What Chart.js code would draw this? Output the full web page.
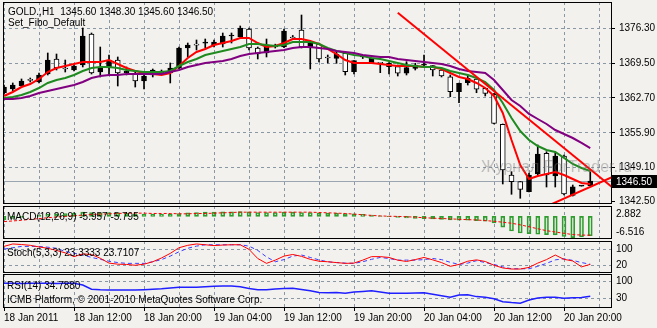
<!DOCTYPE html>
<html><head><meta charset="utf-8">
<script src="https://cdn.jsdelivr.net/npm/chart.js@4.4.1/dist/chart.umd.min.js"></script>
<style>
html,body{margin:0;padding:0;background:#f3f1ee;}
#wrap{position:relative;width:657px;height:328px;overflow:hidden;background:#f3f1ee;font-family:"Liberation Sans",Arial,sans-serif;font-size:10px;color:#000;}
canvas{position:absolute;left:0;}
.t{position:absolute;white-space:pre;line-height:12px;z-index:5;}
.wm{position:absolute;white-space:pre;font-size:16px;line-height:18px;color:rgba(120,120,120,0.42);z-index:4;}
</style></head>
<body><div id="wrap">
<canvas id="cMain" width="657" height="210" style="top:0px"></canvas>
<canvas id="cMacd" width="657" height="36" style="top:204px"></canvas>
<canvas id="cStoch" width="657" height="35" style="top:239px"></canvas>
<canvas id="cRsi" width="657" height="56" style="top:272px"></canvas>
<div class="t" style="left:8px;top:6px">GOLD.,H1  1345.60 1348.30 1345.60 1346.50</div>
<div class="t" style="left:8px;top:17px">Set_Fibo_Default</div>
<div class="wm" style="left:481px;top:158px">Журнал ForTrader.ru</div>
<div class="t" style="left:7px;top:211px">MACD(12,26,9) -5.957 -5.795</div>
<div class="t" style="left:7px;top:247px">Stoch(5,3,3) 23.3333 23.7107</div>
<div class="t" style="left:7px;top:280px">RSI(14) 34.7880</div>
<div class="t" style="left:7px;top:294px">ICMB Platform, © 2001-2010 MetaQuotes Software Corp.</div>
<div class="t" style="left:616px;top:208px">2.882</div>
<div class="t" style="left:616px;top:226px">-6.516</div>
<div class="t" style="left:616px;top:243px">100</div>
<div class="t" style="left:616px;top:259px">20</div>
<div class="t" style="left:616px;top:275px">100</div>
<div class="t" style="left:616px;top:292px">30</div>
</div>
<script>
// ---------- data ----------
const timeLabels = ['18 Jan 2011','18 Jan 12:00','18 Jan 20:00','19 Jan 04:00','19 Jan 12:00','19 Jan 20:00','20 Jan 04:00','20 Jan 12:00','20 Jan 20:00'];
const gridBars = [0,4,8,12,16,20,24,28,32,36,40,44,48,52,56,60,64,68];
const priceTicks = [1376.30,1369.50,1362.70,1355.90,1349.10,1342.50];
const bidPrice = 1346.50;

const opens = [1363.67,1364.45,1365.04,1366.25,1365.82,1367.38,1370.31,1368.40,1368.16,1369.14,
 1375.19,1367.77,1368.55,1370.11,1367.58,1367.38,1366.02,1367.19,1367.97,1367.58,
 1368.55,1372.45,1373.10,1373.40,1373.04,1373.23,1374.80,1374.60,1376.16,1372.45,
 1371.48,1373.04,1372.65,1374.60,1375.97,1372.45,1373.23,1370.60,1370.44,1371.42,
 1367.83,1370.70,1369.47,1369.50,1369.47,1368.81,1367.52,1368.49,1369.10,1369.00,
 1368.16,1366.85,1363.93,1365.68,1366.41,1364.59,1363.42,1357.57,1347.67,1346.37,
 1344.42,1347.87,1351.91,1347.48,1351.38,1343.67,1345.50,1345.60];
const highs = [1365.23,1365.63,1366.41,1366.60,1367.58,1371.48,1371.28,1370.11,1369.14,1376.36,
 1375.38,1372.65,1371.09,1370.70,1368.75,1367.77,1367.58,1368.36,1368.16,1369.53,
 1372.65,1373.43,1374.02,1374.21,1374.02,1375.38,1375.38,1376.75,1376.36,1372.65,
 1374.21,1373.20,1376.16,1374.90,1378.89,1373.62,1373.43,1371.09,1371.73,1371.50,
 1370.00,1371.00,1370.50,1369.59,1369.59,1369.14,1369.78,1369.47,1371.09,1369.00,
 1368.55,1367.19,1365.60,1367.19,1366.74,1364.60,1363.61,1357.63,1348.32,1346.40,
 1348.06,1353.53,1352.22,1352.16,1351.57,1345.72,1345.60,1348.30];
const lows = [1363.48,1364.06,1364.84,1365.82,1365.63,1367.19,1368.16,1367.77,1367.97,1368.75,
 1367.38,1366.80,1367.19,1365.04,1367.19,1364.84,1364.45,1366.80,1367.38,1365.63,
 1368.36,1370.70,1372.06,1372.45,1372.65,1372.65,1373.43,1374.41,1372.06,1370.31,
 1370.70,1372.45,1372.50,1374.10,1372.45,1368.36,1369.72,1369.53,1369.47,1367.19,
 1367.38,1370.40,1369.40,1367.64,1367.38,1366.99,1367.19,1368.16,1368.81,1366.99,
 1366.80,1362.95,1361.78,1365.23,1363.73,1363.09,1357.63,1345.92,1343.91,1343.13,
 1344.36,1347.67,1345.33,1345.33,1343.77,1343.57,1345.50,1345.60];
const closes = [1364.84,1365.23,1366.02,1366.15,1367.19,1370.11,1368.55,1368.35,1368.94,1374.80,
 1367.58,1368.55,1370.11,1367.58,1367.97,1366.02,1366.99,1368.16,1367.58,1368.55,
 1372.45,1373.04,1373.00,1373.50,1373.62,1374.80,1374.90,1376.36,1372.45,1371.28,
 1373.04,1372.65,1375.77,1374.40,1372.65,1373.43,1370.31,1370.50,1371.22,1367.83,
 1369.98,1370.80,1370.44,1369.45,1368.81,1367.52,1368.61,1369.14,1369.20,1368.16,
 1366.99,1363.93,1365.57,1366.54,1364.40,1363.61,1357.76,1348.65,1346.37,1344.88,
 1347.67,1351.77,1347.67,1351.38,1343.96,1345.38,1345.55,1346.50];

const maFast = [1363.09,1363.87,1364.84,1365.43,1366.41,1367.77,1368.55,1368.94,1369.33,1369.72,
 1369.72,1369.72,1370.11,1369.33,1368.55,1367.97,1367.58,1367.38,1367.19,1367.58,
 1368.94,1370.50,1371.67,1372.26,1373.04,1373.43,1373.82,1374.41,1374.41,1373.43,
 1372.65,1372.84,1373.43,1374.21,1374.21,1373.82,1373.23,1372.26,1371.28,1370.11,
 1369.53,1369.53,1369.53,1369.33,1369.14,1368.94,1368.94,1368.94,1368.75,1368.75,
 1368.36,1367.58,1366.80,1366.41,1365.63,1364.65,1363.09,1359.77,1354.50,1349.63,
 1346.89,1347.48,1347.87,1348.26,1347.67,1346.89,1346.11,1345.92];
const maMid = [1362.70,1362.89,1363.28,1363.87,1364.65,1365.63,1366.21,1366.60,1367.19,1367.97,
 1368.55,1368.75,1368.75,1368.55,1368.16,1367.97,1367.77,1367.77,1367.77,1367.97,
 1368.94,1369.72,1370.31,1371.09,1371.48,1371.87,1372.26,1372.65,1373.23,1373.23,
 1373.04,1372.84,1373.04,1373.63,1373.63,1373.63,1373.23,1372.45,1371.87,1371.48,
 1371.09,1370.89,1370.50,1370.31,1369.92,1369.53,1369.14,1368.94,1368.75,1368.75,
 1368.55,1367.97,1367.58,1367.19,1366.60,1365.82,1364.26,1361.72,1358.80,1356.26,
 1354.50,1353.33,1352.55,1352.16,1351.00,1349.82,1349.04,1348.45];
const maSlow = [1362.50,1362.50,1362.70,1363.09,1363.67,1364.06,1364.45,1364.84,1365.23,1365.82,
 1366.60,1366.99,1367.19,1367.19,1367.38,1367.38,1367.38,1367.38,1367.38,1367.77,
 1368.16,1368.75,1369.14,1369.53,1369.72,1369.92,1370.31,1370.89,1371.28,1371.48,
 1371.67,1371.87,1372.06,1372.45,1372.65,1372.65,1372.45,1372.26,1371.87,1371.67,
 1371.48,1371.09,1370.89,1370.70,1370.70,1370.31,1370.11,1369.92,1369.72,1369.53,
 1369.33,1368.94,1368.36,1367.97,1367.77,1367.58,1366.21,1364.26,1362.31,1361.14,
 1359.58,1358.60,1357.63,1356.45,1355.67,1354.89,1353.92,1352.94];

const trendDown = [[45.0,1379.34],[69.5,1345.30]];
const trendUp = [[62.5,1341.93],[69.5,1347.27]];

const macdMain = [-1.0,-0.6,-0.3,0.0,0.3,0.6,0.8,0.9,1.0,1.3,
 1.2,1.1,1.2,1.1,1.0,0.8,0.7,0.7,0.6,0.7,
 0.9,1.1,1.2,1.3,1.3,1.4,1.4,1.5,1.4,1.2,
 1.2,1.2,1.3,1.3,1.2,1.2,1.1,1.0,1.0,0.9,
 0.8,0.6,0.4,0.2,-0.1,-0.3,-0.5,-0.6,-0.7,-0.8,
 -0.9,-1.1,-1.2,-1.2,-1.3,-1.5,-2.0,-3.3,-4.5,-5.1,
 -5.3,-5.5,-5.6,-5.7,-6.2,-6.516,-6.3,-5.957];
const macdSignal = [-1.6,-1.4,-1.2,-0.9,-0.7,-0.4,-0.2,0.0,0.2,0.4,
 0.6,0.7,0.8,0.9,1.0,1.0,1.0,0.9,0.9,0.9,
 0.8,0.8,0.9,0.9,1.0,1.1,1.2,1.3,1.3,1.3,
 1.3,1.3,1.3,1.3,1.3,1.3,1.2,1.1,1.0,0.9,
 0.7,0.5,0.3,0.15,0.05,0.0,-0.1,-0.25,-0.4,-0.55,
 -0.65,-0.75,-0.9,-1.0,-1.1,-1.3,-1.5,-1.8,-2.1,-2.6,
 -3.2,-3.8,-4.4,-4.8,-5.2,-5.6,-5.75,-5.795];

const stochMain = [90,99,97,94,88,83,75,66,52,62,
 60,46,28,24,23,20,24,33,47,64,
 85,94,99,96,93,95,96,96,79,45,
 27,39,54,60,53,42,35,33,30,27,
 28,39,52,52,49,39,34,41,49,40,
 30,16,23,35,40,34,20,10,6,6,
 12,28,41,58,42,36,14,23.3333];
const stochSignal = [80,85,90,90,90,87,83,71,65,58,
 49,42,35,30,27,27,27,33,41,54,
 70,83,91,96,96,96,96,96,91,75,
 51,33,41,54,58,49,40,33,30,28,
 27,33,42,49,45,39,39,39,41,45,
 41,31,23,28,37,30,23,14,7,7,
 7,16,27,40,44,38,30,23.7107];
const stochLevels = [20,80];

const rsi = [66,66,65.5,66,66.5,66,65.8,66,66,62,
 52,50.5,50,50,50,50,50.7,51.7,53,55,
 56.5,56.5,56.5,57.7,58.9,59.6,59.6,57.7,53.6,50.5,
 50.7,52.4,53.4,54.1,51.2,48.3,44,43.5,44,42,
 45.2,46.4,48,45.2,42,42,42,42.8,43.2,39.6,
 36,32.4,38,38.4,34,32.6,29,21.8,19.6,18,
 25.9,30.7,32.4,32.4,30,31.2,31.9,34.788];
const rsiLevels = [30,70];

// ---------- helpers ----------
const bars = opens.map((_, i) => i);
const FONT = '"Liberation Sans", Arial, sans-serif';
const GRID = '#8a97a5';
const X_MIN = -0.115, X_MAX = 69.37;

function xScale(showLabels) {
  return {
    type: 'linear', min: X_MIN, max: X_MAX, offset: false,
    afterBuildTicks: s => { s.ticks = gridBars.map(v => ({value: v})); },
    afterFit: s => { s.height = showLabels ? 21 : 0; s.paddingLeft = 0; s.paddingRight = 0; },
    grid: {
      offset: false, color: GRID, lineWidth: 1, drawTicks: showLabels, tickLength: 4,
      tickColor: c => (c.tick && c.tick.value % 8 === 0) ? '#000' : 'rgba(0,0,0,0)'
    },
    border: {display: false, dash: [3, 3]},
    ticks: {
      display: showLabels, autoSkip: false, maxRotation: 0, minRotation: 0, align: 'start', padding: 1,
      color: '#000', font: {family: FONT, size: 10},
      callback: v => (v % 8 === 0 ? timeLabels[v / 8] : '')
    }
  };
}
function ySide(extra) {
  return Object.assign({
    position: 'right',
    afterFit: s => { s.width = 46; s.paddingTop = 0; s.paddingBottom = 0; },
    border: {display: false, dash: [3, 3]},
    ticks: {display: false},
    grid: {color: GRID, drawTicks: false}
  }, extra);
}
const framePlugin = {
  id: 'frame',
  afterDraw(chart) {
    const {ctx, chartArea: a} = chart;
    ctx.save();
    ctx.strokeStyle = '#000'; ctx.lineWidth = 1;
    ctx.strokeRect(a.left + 0.5, a.top + 0.5, a.right - a.left, a.bottom - a.top);
    ctx.restore();
  }
};
const bidPlugin = {
  id: 'bid',
  beforeDatasetsDraw(chart) {
    const {ctx, chartArea: a} = chart;
    const y = Math.round(chart.scales.y.getPixelForValue(bidPrice)) + 0.5;
    ctx.save();
    ctx.strokeStyle = '#9aa5b1'; ctx.lineWidth = 1;
    ctx.beginPath(); ctx.moveTo(a.left, y); ctx.lineTo(a.right, y); ctx.stroke();
    ctx.restore();
  },
  afterDraw(chart) {
    const {ctx, chartArea: a} = chart;
    const y = Math.round(chart.scales.y.getPixelForValue(bidPrice));
    ctx.save();
    ctx.fillStyle = '#000';
    ctx.fillRect(a.right + 1, y - 6, 46, 13);
    ctx.fillStyle = '#fff';
    ctx.font = '10px ' + FONT;
    ctx.textBaseline = 'middle';
    ctx.fillText(bidPrice.toFixed(2), a.right + 5, y + 1);
    ctx.restore();
  }
};
const common = {
  responsive: false, animation: false, events: [], devicePixelRatio: 1,
  plugins: {legend: {display: false}, tooltip: {enabled: false}}
};
function lineDs(values, color, width, dash, order) {
  return {type: 'line', data: bars.map(i => ({x: i, y: values[i]})), borderColor: color, borderWidth: width,
    borderDash: dash || [], pointRadius: 0, tension: 0, fill: false, order: order};
}
function segDs(pts, color, width, order) {
  return {type: 'line', data: pts.map(p => ({x: p[0], y: p[1]})), borderColor: color, borderWidth: width,
    pointRadius: 0, tension: 0, fill: false, order: order};
}

// ---------- main price chart ----------
new Chart(document.getElementById('cMain'), {
  type: 'bar',
  data: {datasets: [
    segDs(trendDown, '#ff0000', 2, 0),
    segDs(trendUp, '#ff0000', 2, 0),
    lineDs(maSlow, '#800080', 2, null, 1),
    lineDs(maMid, '#1f8a1f', 2, null, 1),
    lineDs(maFast, '#ff0000', 2, null, 1),
    {type: 'bar', data: bars.map(i => ({x: i, y: [opens[i], closes[i]]})),
      backgroundColor: c => (closes[c.dataIndex] >= opens[c.dataIndex] ? '#000' : '#fff'),
      borderColor: '#000', borderWidth: 1, borderSkipped: false, barThickness: 5, minBarLength: 1, grouped: false, order: 2},
    {type: 'bar', data: bars.map(i => ({x: i, y: [lows[i], highs[i]]})),
      backgroundColor: '#000', borderWidth: 0, barThickness: 1, grouped: false, order: 3}
  ]},
  options: Object.assign({}, common, {
    layout: {padding: {left: 3, right: 0, top: 2, bottom: 7}},
    scales: {
      x: xScale(false),
      y: {
        position: 'right', min: 1342.21, max: 1381.43,
        afterBuildTicks: s => { s.ticks = priceTicks.map(v => ({value: v})); },
        afterFit: s => { s.width = 46; s.paddingTop = 0; s.paddingBottom = 0; },
        grid: {color: c => (c.tick && c.tick.value === 1342.5) ? 'rgba(0,0,0,0)' : GRID, tickColor: '#000', tickLength: 4, drawTicks: true},
        border: {display: false, dash: [3, 3]},
        ticks: {padding: 4, color: '#000', font: {family: FONT, size: 10}, callback: v => Number(v).toFixed(2)}
      }
    }
  }),
  plugins: [bidPlugin, framePlugin]
});

// ---------- MACD ----------
new Chart(document.getElementById('cMacd'), {
  type: 'bar',
  data: {datasets: [
    lineDs(macdSignal, '#ff0000', 1, [3, 2], 0),
    {type: 'bar', data: bars.map(i => ({x: i, y: macdMain[i]})), backgroundColor: 'rgba(40,150,40,0.12)',
      borderColor: '#2f9e2f', borderWidth: 1, borderSkipped: false, barThickness: 4, grouped: false, order: 1}
  ]},
  options: Object.assign({}, common, {
    layout: {padding: {left: 3, right: 0, top: 2, bottom: 2}},
    scales: {x: xScale(false), y: ySide({min: -6.65, max: 3.2, grid: {display: false}})}
  }),
  plugins: [framePlugin]
});

// ---------- Stochastic ----------
new Chart(document.getElementById('cStoch'), {
  type: 'line',
  data: {datasets: [
    lineDs(stochMain, '#ff0000', 1, null, 0),
    lineDs(stochSignal, '#3a3aff', 1, [4, 3], 1)
  ]},
  options: Object.assign({}, common, {
    layout: {padding: {left: 3, right: 0, top: 2, bottom: 2}},
    scales: {x: xScale(false), y: ySide({min: -5, max: 110, afterBuildTicks: s => { s.ticks = stochLevels.map(v => ({value: v})); }})}
  }),
  plugins: [framePlugin]
});

// ---------- RSI ----------
new Chart(document.getElementById('cRsi'), {
  type: 'line',
  data: {datasets: [lineDs(rsi, '#1f1fff', 1.5, null, 0)]},
  options: Object.assign({}, common, {
    layout: {padding: {left: 3, right: 0, top: 2, bottom: 0}},
    scales: {x: xScale(true), y: ySide({min: 9, max: 88.5, afterBuildTicks: s => { s.ticks = rsiLevels.map(v => ({value: v})); }})}
  }),
  plugins: [framePlugin]
});
</script>
</body></html>
